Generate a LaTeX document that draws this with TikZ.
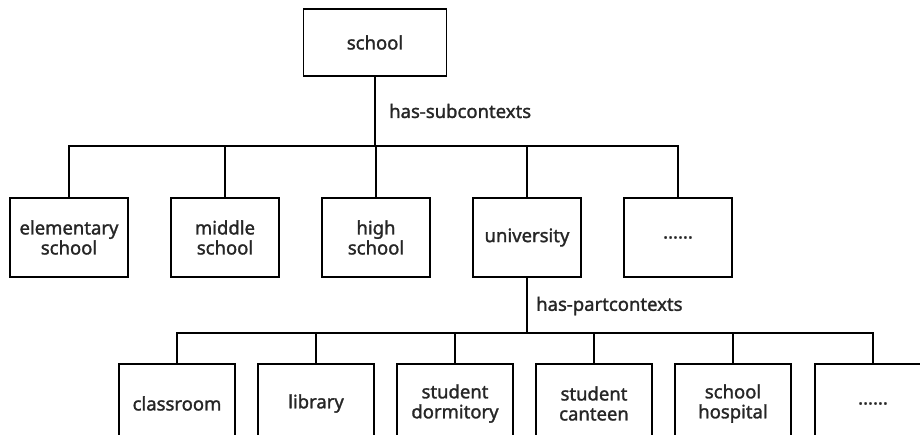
\documentclass[tikz,border=0pt]{standalone}
\usepackage{fontspec}
\setmainfont{Noto Sans}
\newfontfamily\medfont[FakeBold=1.5]{Noto Sans}
\begin{document}
\begin{tikzpicture}[x=1pt,y=-1pt,
  every node/.style={font=\medfont\fontsize{18.5}{20}\selectfont, text=black!85},
  box/.style={draw=black, line width=1.8pt, align=center, inner sep=0pt, minimum height=79pt, text width=#1, minimum width=#1},
  box/.default=108pt,
  conn/.style={draw=black, line width=1.8pt},
  lbl/.style={anchor=west, inner sep=0pt}]
\useasboundingbox (0,0) rectangle (920,434);
\clip (0,0) rectangle (920,434);
\fill[white] (0,0) rectangle (920,434);

\node[box=143pt, minimum height=67pt] (school) at (375,42.5) {school};

\node[box=118pt] (elem) at (69,237.5) {elementary\\school};
\node[box] (middle) at (225,237.5) {middle\\school};
\node[box] (high) at (376,237.5) {high\\school};
\node[box] (univ) at (527,237.5) {university};
\node[box] (dots1) at (678,237.5) {......};

\node[box=116pt] (class) at (177,403.5) {classroom};
\node[box=116pt] (lib) at (316,403.5) {library};
\node[box=116pt] (dorm) at (455,403.5) {student\\dormitory};
\node[box=116pt] (cant) at (594,403.5) {student\\canteen};
\node[box=116pt] (hosp) at (733,403.5) {school\\hospital};
\node[box=116pt] (dots2) at (873,403.5) {......};

\coordinate (bus1) at (375,146);
\coordinate (bus2) at (527,333);

\draw[conn] (school.south) -- (bus1);
\draw[conn] (elem.north) |- (bus1) -| (dots1.north);
\foreach \n in {middle,high,univ} \draw[conn] (\n.north) -- (\n.north |- bus1);
\node[lbl] (sublbl) at (389,111) {has-subcontexts};

\draw[conn] (univ.south) -- (bus2);
\draw[conn] (class.north) |- (bus2) -| (dots2.north);
\foreach \n in {lib,dorm,cant,hosp} \draw[conn] (\n.north) -- (\n.north |- bus2);
\node[lbl] (partlbl) at (536,306) {has-partcontexts};
\end{tikzpicture}
\end{document}
